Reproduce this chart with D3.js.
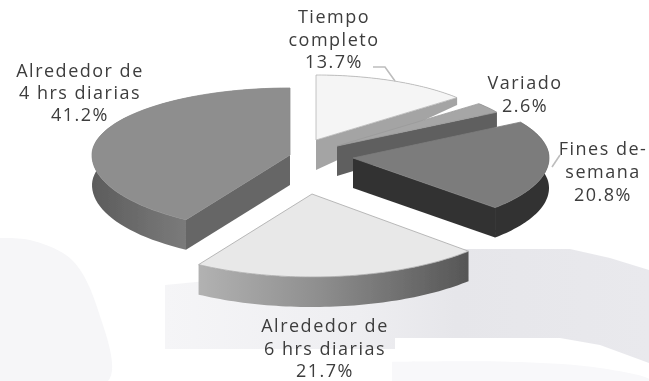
<!DOCTYPE html>
<html><head><meta charset="utf-8">
<script src="https://cdnjs.cloudflare.com/ajax/libs/d3/7.8.5/d3.min.js"></script>
<style>html,body{margin:0;padding:0;background:#fff}svg{display:block}
text{font-family:"Open Sans",sans-serif;font-size:18px;fill:#3c3c3c;letter-spacing:1.5px;text-anchor:middle}</style>
</head><body><svg id="c" width="649" height="381"></svg>
<script>
const categories = ["Tiempo completo","Variado","Fines de semana","Alrededor de 6 hrs diarias","Alrededor de 4 hrs diarias"];
const values = [13.7,2.6,20.8,21.7,41.2];
const labelLines = [["Tiempo","completo"],["Variado"],["Fines de-","semana"],["Alrededor de","6 hrs diarias"],["Alrededor de","4 hrs diarias"]];
const percentLabels = ["13.7%","2.6%","20.8%","21.7%","41.2%"];

// exploded, perspective-projected placement of each slice
const geometry = [
 {cx:316,cy:140,rx:186,up:65,down:65,top:"#f5f5f5",radial:"#a4a4a4",wall:"#a4a4a4",edge:"#b5b5b5"},
 {cx:337,cy:146,rx:187,up:65,down:65,top:"#a6a6a6",radial:"#5f5f5f",wall:"#5f5f5f",edge:"#9a9a9a"},
 {cx:353,cy:158,rx:196,up:69,down:72,top:"#7c7c7c",radial:"#333",wall:"#333",edge:"#7c7c7c"},
 {cx:312,cy:194,rx:216,up:83,down:83,top:"#e8e8e8",radial:"#888",wall:"url(#g6)",edge:"#a8a8a8"},
 {cx:290,cy:155,rx:198,up:67,down:76,top:"#8e8e8e",radial:"#666",wall:"url(#g4)",edge:"#8e8e8e"}
];
const labelPos = [[334,23,22.5],[525,89,23],[603,155,23],[325,332,22.5],[80,77,22]];

const svg = d3.select("#c");
const defs = svg.append("defs");
function grad(id,stops){
  const g=defs.append("linearGradient").attr("id",id);
  stops.forEach(s=>g.append("stop").attr("offset",s[0]).attr("stop-color",s[1]));
}
grad("g6",[[0,"#b2b2b2"],[.45,"#8e8e8e"],[1,"#565656"]]);
grad("g4",[[0,"#5c5c5c"],[.3,"#707070"],[.8,"#8e8e8e"],[1,"#7a7a7a"]]);
grad("wmg",[[0,"#f5f5f7"],[.4,"#eeeef1"],[.6,"#e6e6ea"],[1,"#e9e9ed"]]);
const blur=defs.append("filter").attr("id","soft").attr("x","-5%").attr("y","-5%").attr("width","110%").attr("height","110%");
blur.append("feGaussianBlur").attr("stdDeviation",.55);

// pale watermark behind the chart
const wm = svg.append("g");
const straight = d3.line();
const curve = d3.line().curve(d3.curveCatmullRom);
wm.append("path").attr("d",straight([[165,349],[165,285],[300,272],[465,249],[570,249],[610,258],[649,270],[649,363],[600,345],[560,338],[395,338],[395,349]])+"Z").attr("fill","url(#wmg)");
wm.append("path").attr("d",curve([[0,238],[30,240],[72,260],[98,310],[108,381],[0,381]])+"Z").attr("fill","#f6f6f8");
wm.append("path").attr("d",curve([[392,362],[520,362],[600,368],[649,379],[649,381],[392,381]])+"Z").attr("fill","#f8f8fa");

const pie = d3.pie().sort(null).value(d=>d);
const arcs = pie(values);
const depth = d3.scaleLinear().domain([97,140]).range([7,30]).clamp(true);
const line = d3.line();

const g = svg.append("g").attr("filter","url(#soft)");
// far slices first, nearest last
[0,1,2,4,3].forEach(i=>{
  const a=arcs[i], s=geometry[i];
  const pt=t=>{
    const sn=Math.sin(t), cs=Math.cos(t);
    return [s.cx+s.rx*sn, s.cy-cs*(cs>0?s.up:s.down)];
  };
  const rim=d3.range(0,61).map(k=>pt(a.startAngle+(a.endAngle-a.startAngle)*k/60));
  const drop=p=>[p[0],p[1]+depth(p[1])];
  const apex=[s.cx,s.cy];
  const first=rim[0], last=rim[rim.length-1];
  // outer wall
  const wall=rim.concat(rim.slice().reverse().map(drop));
  g.append("path").attr("d",line(wall)+"Z").attr("fill",s.wall);
  // cut faces: only the ones turned toward the viewer
  if(last[0]>apex[0]+1) g.append("path").attr("d",line([apex,last,drop(last),drop(apex)])+"Z").attr("fill",s.radial);
  if(first[0]<apex[0]-1) g.append("path").attr("d",line([apex,first,drop(first),drop(apex)])+"Z").attr("fill",s.radial);
  // top face
  g.append("path").attr("d",line([apex,...rim])+"Z").attr("fill",s.top).attr("stroke",s.edge).attr("stroke-width",.8);
});

// leader lines
const leaders=[[[373,67],[385,67],[395,81]],[[560,155],[552,167]]];
svg.selectAll("path.leader").data(leaders).join("path").attr("class","leader")
  .attr("d",d=>line(d)).attr("fill","none").attr("stroke","#bdbdbd").attr("stroke-width",1.6);

// labels
const lab=svg.append("g").attr("filter","url(#soft)");
categories.forEach((c,i)=>{
  const [x,y,dy]=labelPos[i];
  const rows=labelLines[i].concat(percentLabels[i]);
  rows.forEach((r,k)=>lab.append("text").attr("x",x).attr("y",y+k*dy).text(r));
});
</script></body></html>
